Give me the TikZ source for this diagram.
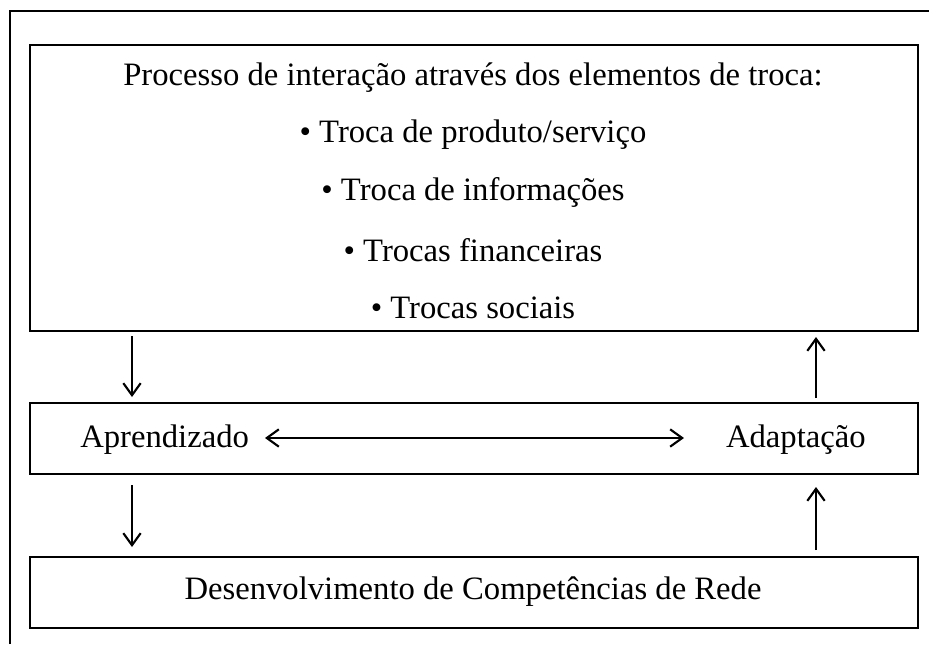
\documentclass[tikz,border=0pt]{standalone}
\usepackage{fontspec}
\setmainfont{Liberation Serif}
\usetikzlibrary{arrows.meta}
\tikzset{
  box/.style={draw, line width=1.3pt, inner sep=0pt, anchor=north west},
  lbl/.style={inner sep=0pt, font=\fontsize{24.5pt}{28pt}\selectfont},
  arr/.style={line width=1.6pt, -{Straight Barb[length=9pt,width=13pt,line width=1.6pt]}},
  darr/.style={line width=1.6pt, {Straight Barb[length=9pt,width=13pt,line width=1.6pt]}-{Straight Barb[length=9pt,width=13pt,line width=1.6pt]}}
}
\begin{document}
\begin{tikzpicture}[x=0.75pt,y=-0.75pt]
\useasboundingbox (0,0) rectangle (929,644);
% outer frame (partially visible)
\draw[line width=2pt] (10,644) -- (10,11) -- (929,11);
% boxes
\node[box, minimum width=888*0.75pt, minimum height=286*0.75pt] (top) at (29,44) {};
\node[box, minimum width=888*0.75pt, minimum height=71*0.75pt] (mid) at (29,402) {};
\node[box, minimum width=888*0.75pt, minimum height=71*0.75pt] (bot) at (29,556) {};
% texts
\node[lbl] (t1) at (473,78) {Processo de interação através dos elementos de troca:};
\node[lbl] (t2) at (473,135) {• Troca de produto/serviço};
\node[lbl] (t3) at (473,192) {• Troca de informações};
\node[lbl] (t4) at (473,250) {• Trocas financeiras};
\node[lbl] (t5) at (473,308) {• Trocas sociais};
\node[lbl, anchor=west] (apr) at (80,440) {Aprendizado};
\node[lbl, anchor=east] (ada) at (866,440) {Adaptação};
\node[lbl] (dev) at (473,592) {Desenvolvimento de Competências de Rede};
% connector ends
\coordinate (a1s) at (132,336);
\coordinate (a1e) at (132,397);
\coordinate (a2s) at (132,485);
\coordinate (a2e) at (132,547);
\coordinate (b1s) at (816,398);
\coordinate (b1e) at (816,337);
\coordinate (b2s) at (816,550);
\coordinate (b2e) at (816,487);
\coordinate (hs) at (265,438);
\coordinate (he) at (684,438);
\draw[arr] (a1s) -- (a1e);
\draw[arr] (a2s) -- (a2e);
\draw[arr] (b1s) -- (b1e);
\draw[arr] (b2s) -- (b2e);
\draw[darr] (hs) -- (he);
\end{tikzpicture}
\end{document}
